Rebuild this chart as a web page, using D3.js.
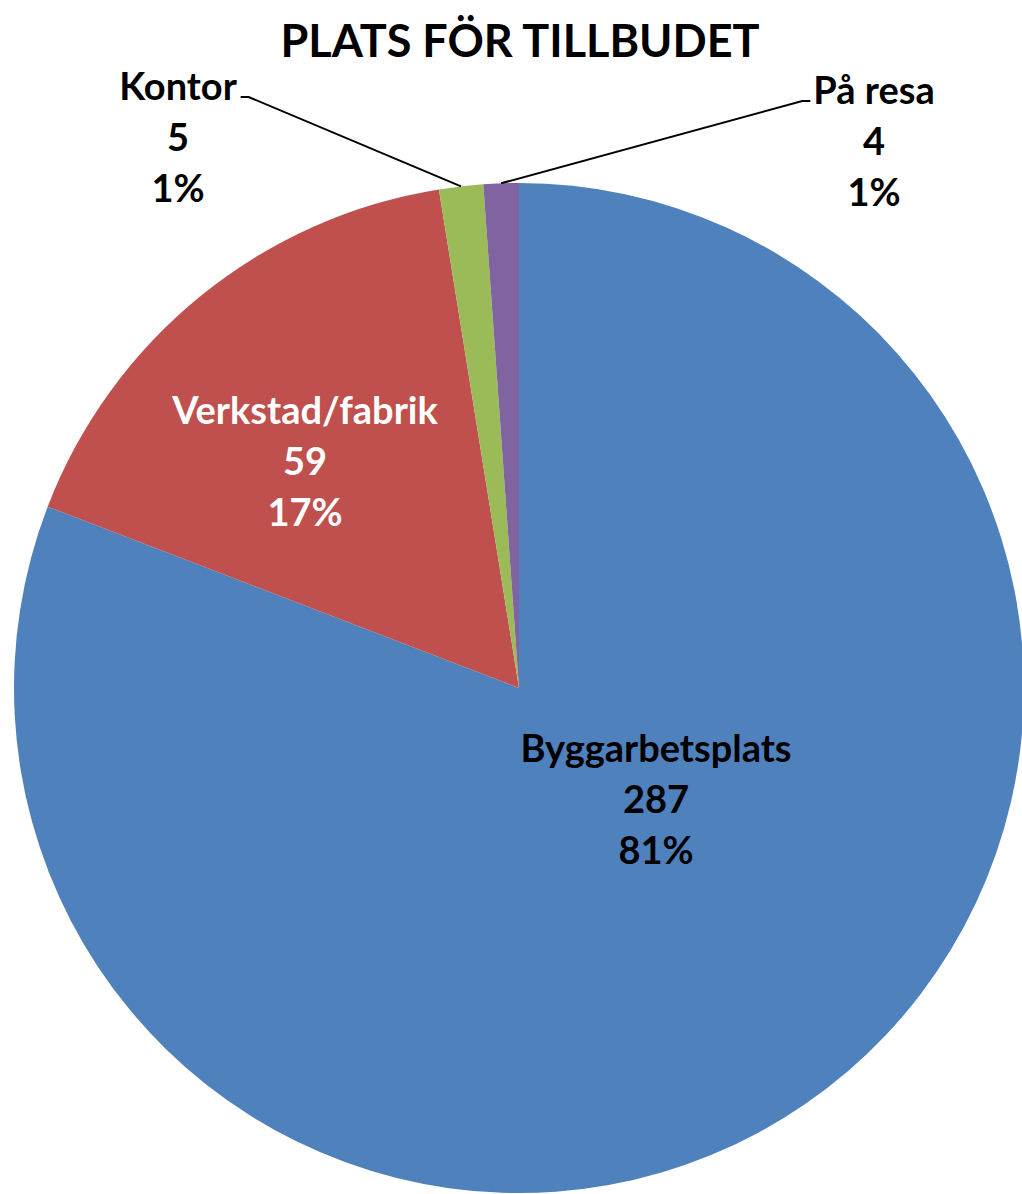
<!DOCTYPE html>
<html>
<head>
<meta charset="utf-8">
<script src="https://cdn.jsdelivr.net/npm/d3@7"></script>
<style>
  body { margin: 0; background: #fff; }
  text { font-family: Lato, "Open Sans", sans-serif; font-weight: 700; }
</style>
</head>
<body>
<svg id="chart" width="1022" height="1194"></svg>
<script>
var categories = ["Byggarbetsplats", "Verkstad/fabrik", "Kontor", "På resa"];
var values = [287, 59, 5, 4];
var colors = ["#4F81BD", "#C0504D", "#9BBB59", "#8064A2"];
var title = "PLATS FÖR TILLBUDET";

var svg = d3.select("#chart"),
    cx = 519,
    cy = 688,
    radius = 505;

var total = d3.sum(values);
var data = categories.map(function(c, i) {
    return {name: c, value: values[i], color: colors[i]};
});

var pie = d3.pie()
    .sort(null)
    .value(function(d) { return d.value; });

var arc = d3.arc()
    .innerRadius(0)
    .outerRadius(radius);

var arcs = pie(data);

var g = svg.append("g")
    .attr("transform", "translate(" + cx + "," + cy + ")");

g.selectAll(".slice")
    .data(arcs)
    .enter()
    .append("path")
    .attr("class", "slice")
    .attr("d", arc)
    .attr("fill", function(d) { return d.data.color; });

svg.append("text")
    .attr("x", 520)
    .attr("y", 57)
    .attr("text-anchor", "middle")
    .attr("font-size", 45)
    .attr("fill", "#000")
    .text(title);

// label placement (pixel offsets from pie centre), inside = no leader line
var labelLayout = [
    {dx: 137, dy: 112, fill: "#000", leader: false},
    {dx: -214, dy: -226, fill: "#fff", leader: false},
    {dx: -341, dy: -550, fill: "#000", leader: true, side: "left"},
    {dx: 355, dy: -546, fill: "#000", leader: true, side: "right"}
];

var lineGap = 51;

arcs.forEach(function(a, i) {
    var L = labelLayout[i];
    var lx = cx + L.dx, ly = cy + L.dy;
    var pct = Math.round(a.data.value / total * 100) + "%";
    var lines = [a.data.name, a.data.value, pct];

    var t = svg.append("text")
        .attr("text-anchor", "middle")
        .attr("font-size", 38)
        .attr("fill", L.fill);
    lines.forEach(function(s, k) {
        t.append("tspan")
            .attr("x", lx)
            .attr("y", ly + (k - 1) * lineGap)
            .attr("dy", "0.35em")
            .text(s);
    });

    if (L.leader) {
        var mid = (a.startAngle + a.endAngle) / 2;
        var px = cx + radius * Math.sin(mid),
            py = cy - radius * Math.cos(mid);
        var bb = t.node().getBBox();
        var firstY = ly - lineGap + 10;
        var ex, ex2;
        if (L.side === "left") {
            ex = bb.x + bb.width + 3;
            ex2 = ex + 8;
        } else {
            ex = bb.x - 3;
            ex2 = ex - 8;
        }
        svg.append("path")
            .attr("d", "M" + ex + "," + firstY + "L" + ex2 + "," + firstY + "L" + px + "," + py)
            .attr("fill", "none")
            .attr("stroke", "#000")
            .attr("stroke-width", 2);
    }
});
</script>
</body>
</html>
